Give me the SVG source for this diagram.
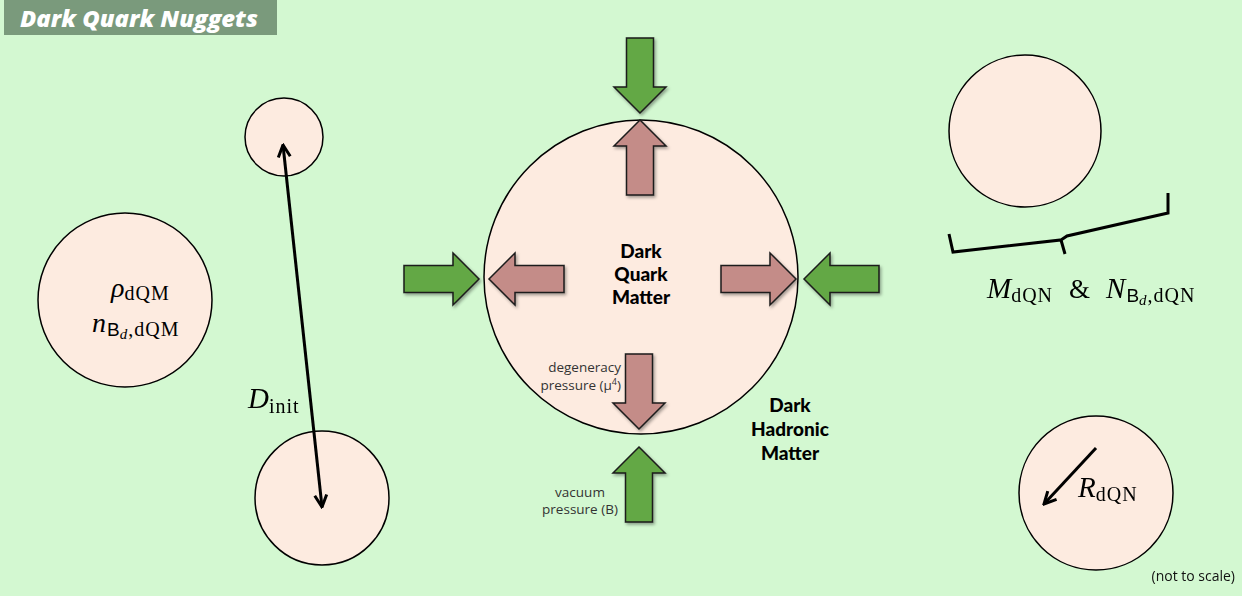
<svg xmlns="http://www.w3.org/2000/svg" xmlns:xlink="http://www.w3.org/1999/xlink" width="1242" height="596" viewBox="0 0 1242 596">
<style>
.c{fill:#fdebe0;stroke:#000;stroke-width:1.5}
.ga{fill:#63a844;stroke:#1a1a1a;stroke-width:1.5}
.pa{fill:#c48c88;stroke:#1a1a1a;stroke-width:1.5}
.math{font-family:"Liberation Serif","DejaVu Serif",serif;fill:#000}
.it{font-style:italic}
.sub{font-size:20px;letter-spacing:1px}
.sans{font-family:"Liberation Sans","DejaVu Sans",sans-serif}
.bold{font-family:Lato,"Noto Sans",sans-serif;font-weight:900;font-size:19px;fill:#000;text-anchor:middle}
.small{font-family:"Open Sans","Noto Sans",sans-serif;font-size:13.5px;fill:#333}
.line{fill:none;stroke:#000;stroke-width:3}
</style>
<defs>
<filter id="sh" x="-30%" y="-30%" width="160%" height="160%">
<feDropShadow dx="1.5" dy="2" stdDeviation="1.5" flood-color="#000" flood-opacity="0.35"/>
</filter>
<path id="arr" d="M0,0 L26,26 L13.5,26 L13.5,75 L-13.5,75 L-13.5,26 L-26,26 Z"/>
<marker id="ah" viewBox="0 0 10 10" refX="9" refY="5" markerWidth="5" markerHeight="5" orient="auto-start-reverse" markerUnits="strokeWidth">
<path d="M1,1 L9,5 L1,9" fill="none" stroke="#000" stroke-width="2"/>
</marker>
</defs>
<rect width="1242" height="596" fill="#d3f8d1"/>
<g id="title">
<rect x="4" y="0" width="273" height="35" fill="#7a9a7c"/>
<text x="20" y="27" font-family="'Open Sans','Noto Sans',sans-serif" font-weight="800" font-style="italic" font-size="23" fill="#fff" textLength="238" lengthAdjust="spacingAndGlyphs">Dark Quark Nuggets</text>
</g>
<g id="node-left">
<circle class="c" cx="125" cy="300" r="87"/>
<text class="math" y="297"><tspan x="111" class="it" font-size="28">ρ</tspan><tspan class="sub" dy="3">dQM</tspan></text>
<text class="math" y="332"><tspan x="92" class="it" font-size="28">n</tspan><tspan class="sans" font-size="19" dy="4" dx="1">B</tspan><tspan class="it" font-size="15" dy="3">d</tspan><tspan class="sub" dy="-3" dx="1">,dQM</tspan></text>
</g>
<g id="node-small-top">
<circle class="c" cx="284" cy="137" r="39"/>
</g>
<g id="node-small-bottom">
<circle class="c" cx="322" cy="498" r="67"/>
</g>
<g id="node-center">
<circle class="c" cx="641" cy="277" r="157"/>
<text class="bold" x="641" y="258">Dark</text>
<text class="bold" x="641" y="281">Quark</text>
<text class="bold" x="641" y="304">Matter</text>
<text class="small" text-anchor="end" x="621" y="372">degeneracy</text>
<text class="small" text-anchor="end" x="621" y="390">pressure (μ<tspan font-size="9" dy="-5">4</tspan><tspan dy="5">)</tspan></text>
</g>
<g id="node-dark-hadronic">
<text class="bold" x="790" y="412">Dark</text>
<text class="bold" x="790" y="436">Hadronic</text>
<text class="bold" x="790" y="460">Matter</text>
<text class="small" text-anchor="middle" x="580" y="497">vacuum</text>
<text class="small" text-anchor="middle" x="580" y="514">pressure (B)</text>
</g>
<g id="node-top-right">
<circle class="c" cx="1025" cy="131" r="76"/>
</g>
<g id="node-bottom-right">
<circle class="c" cx="1096" cy="493" r="77"/>
</g>
<g id="arrows" filter="url(#sh)">
<use xlink:href="#arr" class="ga" transform="translate(640,113) rotate(180)"/>
<use xlink:href="#arr" class="pa" transform="translate(640,120)"/>
<use xlink:href="#arr" class="ga" transform="translate(479,279) rotate(90)"/>
<use xlink:href="#arr" class="pa" transform="translate(489,279) rotate(-90)"/>
<use xlink:href="#arr" class="pa" transform="translate(796,279) rotate(90)"/>
<use xlink:href="#arr" class="ga" transform="translate(804,279) rotate(-90)"/>
<use xlink:href="#arr" class="pa" transform="translate(639,429) rotate(180)"/>
<use xlink:href="#arr" class="ga" transform="translate(639,447)"/>
</g>
<g id="connectors">
<line class="line" x1="283" y1="145" x2="322" y2="507" marker-start="url(#ah)" marker-end="url(#ah)"/>
<line class="line" x1="1096" y1="448" x2="1044" y2="504" marker-end="url(#ah)"/>
<path class="line" stroke-width="4" d="M949,234 L953,252 L1061,240 L1065,254 M1061,240 L1067,236 L1168,213 L1168,193"/>
</g>
<g id="labels">
<text class="math" y="408"><tspan x="248" class="it" font-size="29">D</tspan><tspan class="sub" dy="5">init</tspan></text>
<text class="math" y="298"><tspan x="987" class="it" font-size="29">M</tspan><tspan class="sub" dy="4">dQN</tspan><tspan font-size="27" dy="-4" dx="16">&amp;</tspan><tspan class="it" font-size="29" dx="16">N</tspan><tspan class="sans" font-size="19" dy="4" dx="1">B</tspan><tspan class="it" font-size="15" dy="3">d</tspan><tspan class="sub" dy="-3" dx="1">,dQN</tspan></text>
<text class="math" y="497"><tspan x="1078" class="it" font-size="29">R</tspan><tspan class="sub" dy="4">dQN</tspan></text>
<text x="1235" y="581" text-anchor="end" font-family="'Open Sans','Noto Sans',sans-serif" font-size="14" fill="#111">(not to scale)</text>
</g>
</svg>
